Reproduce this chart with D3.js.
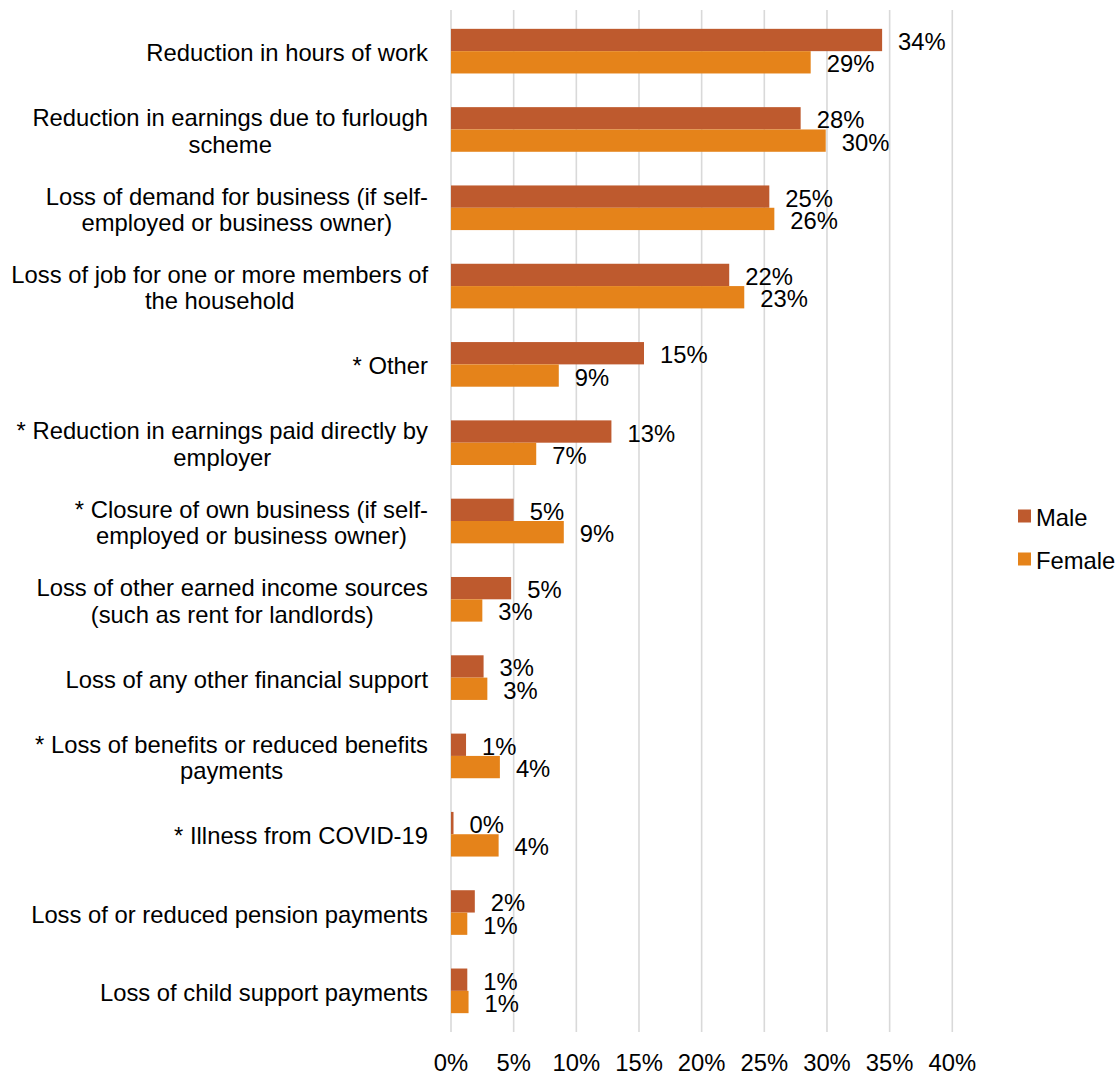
<!DOCTYPE html>
<html><head><meta charset="utf-8">
<script src="https://cdn.jsdelivr.net/npm/d3@7"></script>
<style>body{margin:0;background:#fff}svg{display:block}text{font-family:"Liberation Sans",Arial,sans-serif;fill:#000}</style>
</head><body>
<svg id="c" width="1115" height="1073"></svg>
<script>
const categories = [
  ["Reduction in hours of work"],
  ["Reduction in earnings due to furlough","scheme"],
  ["Loss of demand for business (if self-","employed or business owner)"],
  ["Loss of job for one or more members of","the household"],
  ["* Other"],
  ["* Reduction in earnings paid directly by","employer"],
  ["* Closure of own business (if self-","employed or business owner)"],
  ["Loss of other earned income sources","(such as rent for landlords)"],
  ["Loss of any other financial support"],
  ["* Loss of benefits or reduced benefits","payments"],
  ["* Illness from COVID-19"],
  ["Loss of or reduced pension payments"],
  ["Loss of child support payments"]
];
const seriesNames = ["Male","Female"];
const maleValues   = [34.4, 27.9, 25.4, 22.2, 15.4, 12.8, 5.0, 4.8, 2.6, 1.2, 0.2, 1.9, 1.3];
const femaleValues = [28.7, 29.9, 25.8, 23.4, 8.6, 6.8, 9.0, 2.5, 2.9, 3.9, 3.8, 1.3, 1.4];
const maleLabels   = ["34%","28%","25%","22%","15%","13%","5%","5%","3%","1%","0%","2%","1%"];
const femaleLabels = ["29%","30%","26%","23%","9%","7%","9%","3%","3%","4%","4%","1%","1%"];
const xTicks = [0,5,10,15,20,25,30,35,40];
const colors = ["#BE5A2E","#E5831A"];

(function(){
const FS = "23.8px";
const svg = d3.select("#c");
const pL = 451, pR = 952.3, pT = 12, pB = 1030;
const x = d3.scaleLinear().domain([0,40]).range([pL,pR]);
const idx = categories.map((d,i)=>i);
const y = d3.scaleBand().domain(idx).range([pT,pB]).paddingInner(0.43).paddingOuter(0.215);
const ys = d3.scaleBand().domain(seriesNames).range([0,y.bandwidth()]);

svg.append("g").selectAll("line").data(xTicks).join("line")
  .attr("x1",d=>x(d)).attr("x2",d=>x(d)).attr("y1",pT-2).attr("y2",pB+2)
  .attr("stroke","#d9d9d9").attr("stroke-width",1.6);

svg.append("g").selectAll("text").data(xTicks).join("text")
  .attr("x",d=>x(d)).attr("y",1062).attr("text-anchor","middle").attr("dominant-baseline","central")
  .style("font-size",FS).text(d=>d+"%");

const series = [
  {name:"Male", values:maleValues, labels:maleLabels, color:colors[0]},
  {name:"Female", values:femaleValues, labels:femaleLabels, color:colors[1]}
];
series.forEach(s=>{
  const g = svg.append("g");
  g.selectAll("rect").data(s.values).join("rect")
    .attr("x",x(0)).attr("y",(d,i)=>y(i)+ys(s.name))
    .attr("width",d=>x(d)-x(0)).attr("height",ys.bandwidth())
    .attr("fill",s.color);
  g.selectAll("text").data(s.values).join("text")
    .attr("x",d=>x(d)+16).attr("y",(d,i)=>y(i)+ys(s.name)+ys.bandwidth()/2+1.5)
    .attr("dominant-baseline","central").style("font-size",FS)
    .text((d,i)=>s.labels[i]);
});

const cg = svg.append("g");
categories.forEach((lines,i)=>{
  const cy = y(i)+y.bandwidth()/2+1;
  const t = cg.append("text").style("font-size",FS).attr("dominant-baseline","central");
  const lh = 26.5;
  const tsp = lines.map((l,j)=>t.append("tspan").attr("y",cy+(j-(lines.length-1)/2)*lh).attr("dominant-baseline","central").text(l));
  const widths = tsp.map(s=>s.node().getComputedTextLength());
  const maxW = d3.max(widths);
  const cx = 428 - maxW/2;
  t.attr("text-anchor","middle");
  tsp.forEach(s=>s.attr("x",cx));
});

const lg = svg.append("g");
series.forEach((s,i)=>{
  const ly = 516 + i*43;
  lg.append("rect").attr("x",1018).attr("y",ly-6.5).attr("width",13).attr("height",13).attr("fill",s.color);
  lg.append("text").attr("x",1036).attr("y",ly+1).attr("dominant-baseline","central").style("font-size",FS).text(s.name);
});
})();
</script>
</body></html>
